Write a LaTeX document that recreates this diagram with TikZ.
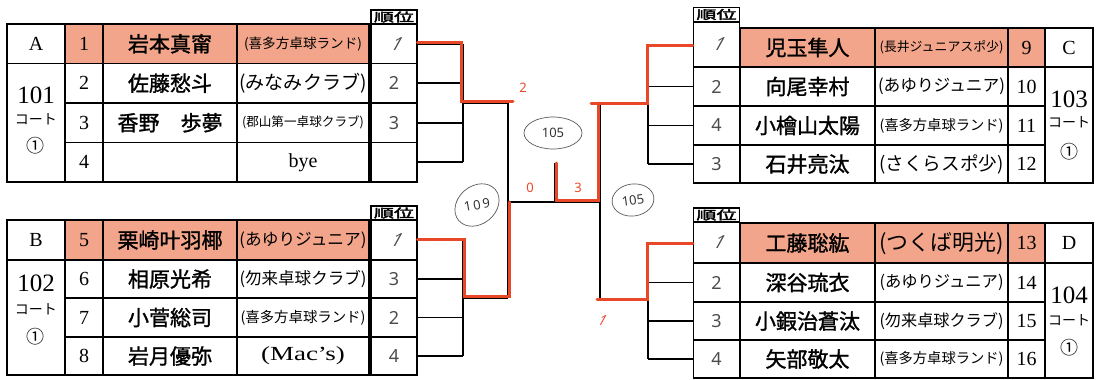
\documentclass[tikz,border=0pt]{standalone}
\usepackage{fontspec}
\usepackage{graphicx}
\setmainfont{Liberation Serif}
\newfontfamily\cjk{Noto Sans CJK JP}
\newfontfamily\cjkn[FakeBold=1.4]{Noto Sans CJK JP}
\newfontfamily\cjkh[FakeBold=2.5]{Noto Sans CJK JP}
\newfontfamily\hand{Noto Sans}
\newfontfamily\handsl[FakeSlant=0.55]{Noto Sans}
\usetikzlibrary{shapes.geometric,calc}
\definecolor{crayon}{RGB}{242,165,138}
\definecolor{redpen}{RGB}{232,72,40}
\newcommand\tm[2]{\resizebox{#1pt}{!}{\cjk #2}}
\newcommand\rone{{\handsl 1}}
\tikzset{
  outer/.style={line width=2.2pt, black},
  inner/.style={line width=1.3pt, black},
  br/.style={line width=1.8pt, black},
  redline/.style={line width=3pt, redpen, line cap=round},
  num/.style={font=\fontsize{20}{20}\selectfont, inner sep=0},
  court/.style={font=\fontsize{25}{25}\selectfont, inner sep=0},
  kt/.style={font=\cjk\fontsize{14}{14}\selectfont, inner sep=0},
  circled/.style={font=\cjk\fontsize{18}{18}\selectfont, inner sep=0},
  pname/.style={font=\cjkn\fontsize{21}{21}\selectfont, inner sep=0},
  team/.style={inner sep=0},
  rcell/.style={draw, line width=1.3pt, minimum width=46pt, inner sep=0,
    font=\hand\fontsize{18}{18}\selectfont, text=black!70},
  hdr/.style={draw, line width=1.3pt, inner sep=0, minimum width=46pt, minimum height=14pt},
  redlabel/.style={font=\hand\fontsize{13}{13}\selectfont, text=redpen, inner sep=0},
  circ/.style={ellipse, draw=black!65, line width=0.7pt, inner sep=1pt,
    font=\hand\fontsize{13}{13}\selectfont, text=black!80},
  ctext/.style={inner sep=0, font=\hand\fontsize{13}{13}\selectfont, text=black!80},
}
\begin{document}
\begin{tikzpicture}[x=1pt,y=-1pt]
\useasboundingbox (0,0) rectangle (1096,380);
% crayon fills
\fill[crayon] (65,24) rectangle (369,63.5);
\fill[crayon] (65,220) rectangle (369,260);
\fill[crayon] (740,28) rectangle (1045,67);
\fill[crayon] (740,223) rectangle (1045,263);

% ---------- Table A ----------
\draw[inner] (7,63.5) -- (369,63.5);
\draw[inner] (65,103) -- (369,103);
\draw[inner] (65,142.5) -- (369,142.5);
\foreach \x in {65,103,237} \draw[inner] (\x,24) -- (\x,182);
\draw[outer] (7,24) rectangle (369,182);
\node[num] (lA) at (36,43.75) {A};
\node[court] (cA) at (36,95) {101};
\node[kt] (kA) at (36,119) {コート};
\node[circled] (oA) at (36,146) {①};
\node[num] (n1) at (84,43.75) {1};
\node[num] (n2) at (84,83.25) {2};
\node[num] (n3) at (84,122.75) {3};
\node[num] (n4) at (84,162.25) {4};
\node[pname] (p1) at (170,43.75) {岩本真甯};
\node[pname] (p2) at (170,83.25) {佐藤愁斗};
\node[pname] (p3) at (170,122.75) {香野　歩夢};
\node[team] (t1) at (303,43.75) {\tm{118}{(喜多方卓球ランド)}};
\node[team] (t2) at (303,83.25) {\tm{127}{(みなみクラブ)}};
\node[team] (t3) at (303,122.75) {\tm{122}{(郡山第一卓球クラブ)}};
\node[num] (t4) at (303,162.25) {bye};
\node[hdr] (hA) at (394,17) {\resizebox{40pt}{10pt}{\cjkh 順位}};
\node[rcell, minimum height=39.5pt] (rA1) at (394,43.75) {\rone};
\node[rcell, minimum height=39.5pt] (rA2) at (394,83.25) {2};
\node[rcell, minimum height=39.5pt] (rA3) at (394,122.75) {3};
\node[rcell, minimum height=39.5pt] (rA4) at (394,162.25) {};

% ---------- Table B ----------
\draw[inner] (7,260) -- (369,260);
\draw[inner] (65,298) -- (369,298);
\draw[inner] (65,337) -- (369,337);
\foreach \x in {65,103,237} \draw[inner] (\x,220) -- (\x,375);
\draw[outer] (7,220) rectangle (369,375);
\node[num] (lB) at (36,240) {B};
\node[court] (cB) at (36,283) {102};
\node[kt] (kB) at (36,309) {コート};
\node[circled] (oB) at (36,337) {①};
\node[num] (n5) at (84,240) {5};
\node[num] (n6) at (84,279) {6};
\node[num] (n7) at (84,317.5) {7};
\node[num] (n8) at (84,356) {8};
\node[pname] (p5) at (170,240) {栗崎叶羽椰};
\node[pname] (p6) at (170,279) {相原光希};
\node[pname] (p7) at (170,317.5) {小菅総司};
\node[pname] (p8) at (170,356) {岩月優弥};
\node[team] (t5) at (303,240) {\tm{127}{(あゆりジュニア)}};
\node[team] (t6) at (303,279) {\tm{127}{(勿来卓球クラブ)}};
\node[team] (t7) at (303,317.5) {\tm{125}{(喜多方卓球ランド)}};
\node[team] (t8) at (303,356) {\scalebox{1.35}[1]{\fontsize{20}{20}\selectfont (Mac’s)}};
\node[hdr] (hB) at (394,213) {\resizebox{40pt}{10pt}{\cjkh 順位}};
\node[rcell, minimum height=40pt] (rB1) at (394,240) {\rone};
\node[rcell, minimum height=38pt] (rB2) at (394,279) {3};
\node[rcell, minimum height=39pt] (rB3) at (394,317.5) {2};
\node[rcell, minimum height=38pt] (rB4) at (394,356) {4};

% ---------- Table C ----------
\draw[inner] (740,67) -- (1093,67);
\draw[inner] (740,106) -- (1045,106);
\draw[inner] (740,145) -- (1045,145);
\foreach \x in {875,1008,1045} \draw[inner] (\x,28) -- (\x,183);
\draw[outer] (740,28) rectangle (1093,183);
\node[num] (lC) at (1069,47.5) {C};
\node[court] (cC) at (1069,99) {103};
\node[kt] (kC) at (1069,122) {コート};
\node[circled] (oC) at (1069,152) {①};
\node[num] (n9) at (1026.5,47.5) {9};
\node[num] (n10) at (1026.5,86.5) {10};
\node[num] (n11) at (1026.5,125.5) {11};
\node[num] (n12) at (1026.5,164) {12};
\node[pname] (p9) at (807.5,47.5) {児玉隼人};
\node[pname] (p10) at (807.5,86.5) {向尾幸村};
\node[pname] (p11) at (807.5,125.5) {小檜山太陽};
\node[pname] (p12) at (807.5,164) {石井亮汰};
\node[team] (t9) at (941.5,47.5) {\tm{124}{(長井ジュニアスポ少)}};
\node[team] (t10) at (941.5,86.5) {\tm{127}{(あゆりジュニア)}};
\node[team] (t11) at (941.5,125.5) {\tm{124}{(喜多方卓球ランド)}};
\node[team] (t12) at (941.5,164) {\tm{124}{(さくらスポ少)}};
\node[hdr] (hC) at (716.5,14.5) {\resizebox{40pt}{10pt}{\cjkh 順位}};
\node[rcell, minimum height=45pt] (rC1) at (716.5,44.5) {\rone};
\node[rcell, minimum height=39pt] (rC2) at (716.5,86.5) {2};
\node[rcell, minimum height=39pt] (rC3) at (716.5,125.5) {4};
\node[rcell, minimum height=38pt] (rC4) at (716.5,164) {3};

% ---------- Table D ----------
\draw[inner] (740,263) -- (1093,263);
\draw[inner] (740,302) -- (1045,302);
\draw[inner] (740,340) -- (1045,340);
\foreach \x in {875,1008,1045} \draw[inner] (\x,223) -- (\x,378);
\draw[outer] (740,223) rectangle (1093,378);
\node[num] (lD) at (1069,243) {D};
\node[court] (cD) at (1069,295) {104};
\node[kt] (kD) at (1069,320) {コート};
\node[circled] (oD) at (1069,348) {①};
\node[num] (n13) at (1026.5,243) {13};
\node[num] (n14) at (1026.5,282.5) {14};
\node[num] (n15) at (1026.5,321) {15};
\node[num] (n16) at (1026.5,359) {16};
\node[pname] (p13) at (807.5,243) {工藤聡紘};
\node[pname] (p14) at (807.5,282.5) {深谷琉衣};
\node[pname] (p15) at (807.5,321) {小鍜治蒼汰};
\node[pname] (p16) at (807.5,359) {矢部敬太};
\node[team] (t13) at (941.5,243) {\tm{124}{(つくば明光)}};
\node[team] (t14) at (941.5,282.5) {\tm{124}{(あゆりジュニア)}};
\node[team] (t15) at (941.5,321) {\tm{124}{(勿来卓球クラブ)}};
\node[team] (t16) at (941.5,359) {\tm{124}{(喜多方卓球ランド)}};
\node[hdr] (hD) at (716.5,215) {\resizebox{40pt}{10pt}{\cjkh 順位}};
\node[rcell, minimum height=41pt] (rD1) at (716.5,242.5) {\rone};
\node[rcell, minimum height=39pt] (rD2) at (716.5,282.5) {2};
\node[rcell, minimum height=38pt] (rD3) at (716.5,321) {3};
\node[rcell, minimum height=38pt] (rD4) at (716.5,359) {4};

% ---------- bracket ----------
\coordinate (jA) at (463,103);
\coordinate (jB) at (463,298);
\coordinate (sL) at (508,202);
\coordinate (sR) at (600,202);
\coordinate (fin) at (555,163);
\coordinate (jC) at (648,104.5);
\coordinate (jD) at (648,300.5);

\foreach \i in {1,...,4} {
  \draw[br] (rA\i.east) -- (rA\i.east -| jA);
  \draw[br] (rB\i.east) -- (rB\i.east -| jB);
  \draw[br] (rC\i.west) -- (rC\i.west -| jC);
  \draw[br] (rD\i.west) -- (rD\i.west -| jD);
}
\draw[br] (rA1.east -| jA) -- (rA4.east -| jA);
\draw[br] (rB1.east -| jB) -- (rB4.east -| jB);
\draw[br] (rC1.west -| jC) -- (rC4.west -| jC);
\draw[br] (rD1.west -| jD) -- (rD4.west -| jD);
\draw[br] (jA) -- (jA -| sL);
\draw[br] (jB) -- (jB -| sL);
\draw[br] (jA -| sL) -- (jB -| sL);
\draw[br] (jC) -- (jC -| sR);
\draw[br] (jD) -- (jD -| sR);
\draw[br] (jC -| sR) -- (jD -| sR);
\draw[br] (sL) -- (sR);
\draw[line width=2.4pt] (fin) -- (fin |- sL);

% ---------- red winner lines ----------
\draw[redline] ($(rA1.east)+(0,-1)$) -| ($(jA)+(-1.5,-1.5)$) -- ($(jA -| sL)+(5,-1.5)$);
\draw[redline] ($(rB1.east)+(0,-1)$) -| ($(jB)+(1,-1.5)$) -- ($(jB -| sL)+(1.5,-1.5)$) -- ($(sL)+(1.5,0)$);
\draw[redline] ($(rC1.west)+(0,1)$) -| ($(jC)+(-1,-1.5)$) -- ($(jC -| sR)+(-9,-1.5)$);
\draw[redline] ($(jC -| sR)+(-1.5,-1.5)$) -- ($(sR)+(-1.5,-1.5)$) -| ($(fin)+(1.8,0)$);
\draw[redline] ($(rD1.west)+(0,1)$) -| ($(jD)+(-1,-1.5)$) -- ($(jD -| sR)+(-3,-1.5)$);

% ---------- scores ----------
\node[redlabel] (s2) at (523,88) {2};
\node[redlabel] (s0) at (530,188) {0};
\node[redlabel] (s3) at (578,188) {3};
\node[redlabel, font=\handsl\fontsize{14}{14}\selectfont] (s1) at (600,320) {1};

% ---------- circled court numbers ----------
\node[circ, minimum width=58pt, minimum height=32pt] (e1) at (553,133) {105};
\node[circ, minimum width=48pt, minimum height=38pt, rotate=40] (e2) at (477,205) {};
\node[ctext, rotate=10] (e2t) at (477,205) {1\hspace{2pt}0\hspace{2pt}9};
\node[circ, minimum width=42pt, minimum height=32pt, rotate=8] (e3) at (633,200) {105};
\end{tikzpicture}
\end{document}
